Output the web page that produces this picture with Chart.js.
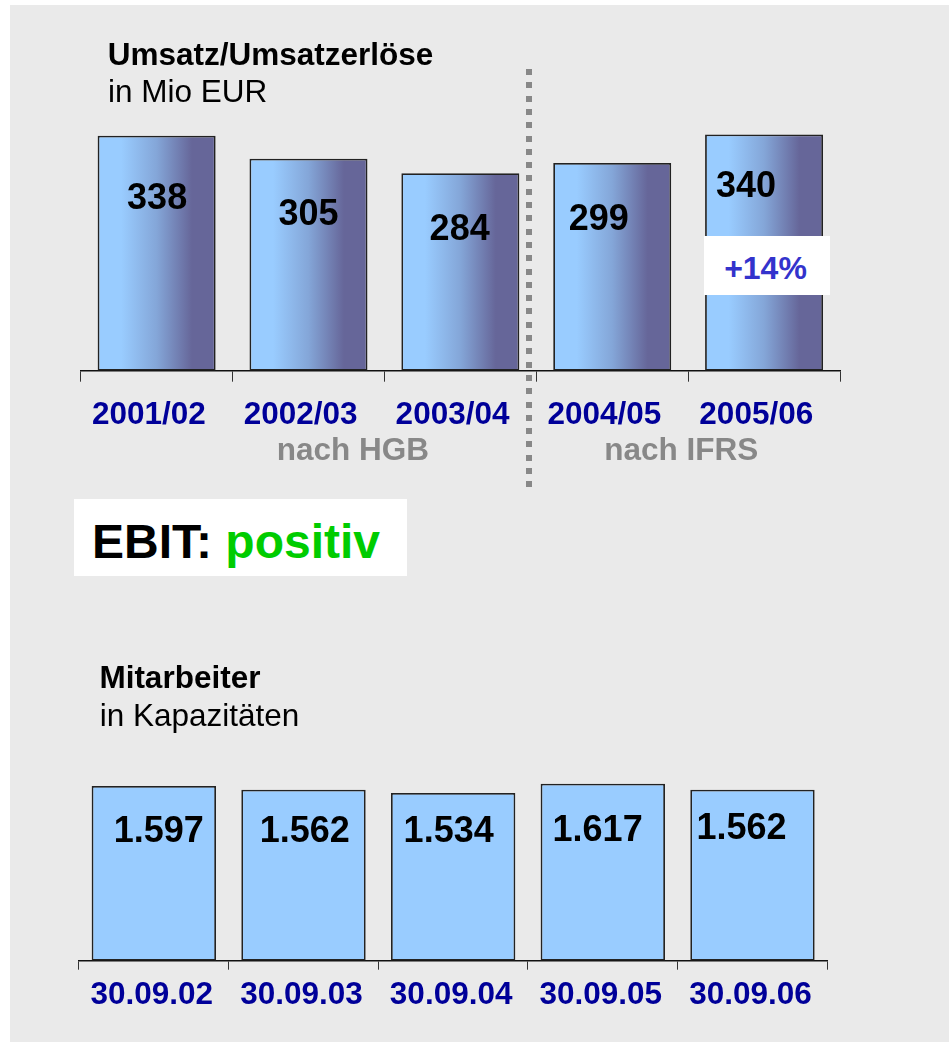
<!DOCTYPE html>
<html><head><meta charset="utf-8">
<script src="https://cdn.jsdelivr.net/npm/chart.js@4.4.1/dist/chart.umd.min.js"></script>
<style>
html,body{margin:0;padding:0;background:#fff;}
body{width:949px;height:1042px;position:relative;overflow:hidden;font-family:"Liberation Sans",Arial,sans-serif;}
#bg{position:absolute;left:10px;top:5px;width:939px;height:1037px;background:#eaeaea;}
canvas{position:absolute;left:0;}
.t{position:absolute;white-space:nowrap;line-height:1;}
.box{position:absolute;background:#fff;}
#dots{position:absolute;left:526px;top:69px;width:6px;height:421px;background:repeating-linear-gradient(to bottom,#888 0,#888 6px,transparent 6px,transparent 13.3px);}
</style></head><body>
<div id="bg"></div>
<div id="dots"></div>
<canvas id="c1" width="949" height="500" style="top:0"></canvas>
<canvas id="c2" width="949" height="442" style="top:600px"></canvas>
<div class="box" style="left:74px;top:499px;width:333px;height:77px;"></div>
<div class="box" id="growthBox" style="left:704px;top:236px;width:126px;height:59px;"></div>
<script>
// ---- data ----
const fiscalYears = ["2001/02", "2002/03", "2003/04", "2004/05", "2005/06"];
const revenue = [338, 305, 284, 299, 340];
const staffDates = ["30.09.02", "30.09.03", "30.09.04", "30.09.05", "30.09.06"];
const staff = [1597, 1562, 1534, 1617, 1562];

// ---- label nudges (styling, px) ----
const revLabelShift = [[0.5, 73], [0, 66], [-0.7, 67], [-13.4, 67], [-18, 62.6]];
const staffLabelShift = [[5, 56], [1.2, 52], [-4.5, 48.7], [-5.2, 57], [-10.9, 49.3]];

const FF = "'Liberation Sans', Arial, sans-serif";

function place(text, x, baseline, size, weight, color, center) {
  const s = document.createElement('div');
  s.className = 't';
  s.style.font = weight + ' ' + size + 'px ' + FF;
  s.style.color = color;
  s.style.top = (baseline - 0.8465 * size) + 'px';
  s.style.left = x + 'px';
  if (center) s.style.transform = 'translateX(-50%)';
  s.innerHTML = text;
  document.body.appendChild(s);
  return s;
}

function fmt(v) { return String(v).replace(/\B(?=(\d{3})+(?!\d))/g, '.'); }

function valueLabels(shifts) {
  return {
    id: 'valueLabels',
    afterDatasetsDraw(chart) {
      const ctx = chart.ctx;
      const meta = chart.getDatasetMeta(0);
      const vals = chart.data.datasets[0].data;
      ctx.save();
      ctx.font = 'bold 36px ' + FF;
      ctx.fillStyle = '#000';
      ctx.textAlign = 'center';
      ctx.textBaseline = 'alphabetic';
      meta.data.forEach((el, i) => {
        ctx.fillText(fmt(vals[i]), el.x + shifts[i][0], el.y + shifts[i][1]);
      });
      ctx.restore();
    }
  };
}

const BAR1 = 0.777;
function gradientFill(c) {
  const chart = c.chart, xs = chart.scales.x;
  if (c.type !== 'data' || !xs || !chart.chartArea) return '#99ccff';
  const cx = xs.getPixelForValue(c.dataIndex);
  const w = xs.width / revenue.length * BAR1;
  if (!isFinite(cx) || !isFinite(w)) return '#99ccff';
  const g = chart.ctx.createLinearGradient(cx - w / 2, 0, cx + w / 2, 0);
  g.addColorStop(0, '#99ccff');
  g.addColorStop(0.2, '#99ccff');
  g.addColorStop(0.5, '#84a6d8');
  g.addColorStop(0.8, '#666699');
  g.addColorStop(1, '#666699');
  return g;
}

new Chart(document.getElementById('c1'), {
  type: 'bar',
  data: {
    labels: fiscalYears,
    datasets: [{
      data: revenue,
      backgroundColor: gradientFill,
      borderColor: '#222',
      borderWidth: 1.8,
      borderSkipped: false,
      categoryPercentage: 1,
      barPercentage: BAR1
    }]
  },
  options: {
    responsive: false,
    animation: false,
    layout: { padding: { left: 80.7, right: 109, top: 92.7, bottom: 69.3 } },
    plugins: { legend: { display: false }, tooltip: { enabled: false } },
    scales: {
      x: {
        offset: true,
        grid: { drawOnChartArea: false, tickLength: 11, color: '#333', lineWidth: 1, offset: true },
        border: { display: true, color: '#111', width: 1.5 },
        ticks: { color: '#000099', font: { family: FF, size: 31.5, weight: 'bold' }, padding: 14.5, labelOffset: -7.8, maxRotation: 0, autoSkip: false },
        afterFit: s => { s.height = 60; }
      },
      y: { display: false, min: 0, max: 400 }
    }
  },
  plugins: [valueLabels(revLabelShift)]
});

new Chart(document.getElementById('c2'), {
  type: 'bar',
  data: {
    labels: staffDates,
    datasets: [{
      data: staff,
      backgroundColor: '#99ccff',
      borderColor: '#222',
      borderWidth: 1.8,
      borderSkipped: false,
      categoryPercentage: 1,
      barPercentage: 0.831
    }]
  },
  options: {
    responsive: false,
    animation: false,
    layout: { padding: { left: 79, right: 121.7, top: 141.9, bottom: 21.3 } },
    plugins: { legend: { display: false }, tooltip: { enabled: false } },
    scales: {
      x: {
        offset: true,
        grid: { drawOnChartArea: false, tickLength: 9, color: '#333', lineWidth: 1, offset: true },
        border: { display: true, color: '#111', width: 1.5 },
        ticks: { color: '#000099', font: { family: FF, size: 31.5, weight: 'bold' }, padding: 6.5, labelOffset: -2, maxRotation: 0, autoSkip: false },
        afterFit: s => { s.height = 60; }
      },
      y: { display: false, min: 0, max: 2000 }
    }
  },
  plugins: [valueLabels(staffLabelShift)]
});

// ---- text annotations ----
place('Umsatz/Umsatzerlöse', 107.7, 62.7, 31.5, 'bold', '#000');
place('in Mio EUR', 108, 100, 31.5, 'normal', '#000');
place('nach HGB', 352.8, 457.3, 31.5, 'bold', '#888', true);
place('nach IFRS', 681.3, 457.3, 31.5, 'bold', '#888', true);
const growth = Math.round((revenue[4] / revenue[3] - 1) * 100);
place('+' + growth + '%', 765.5, 276.7, 32, 'bold', '#3333cc', true);
place('EBIT: <span style="color:#00cc00">positiv</span>', 92, 555, 48, 'bold', '#000');
place('Mitarbeiter', 99.4, 685.7, 31.5, 'bold', '#000');
place('in Kapazitäten', 99.7, 723.3, 31.5, 'normal', '#000');
</script>
</body></html>
